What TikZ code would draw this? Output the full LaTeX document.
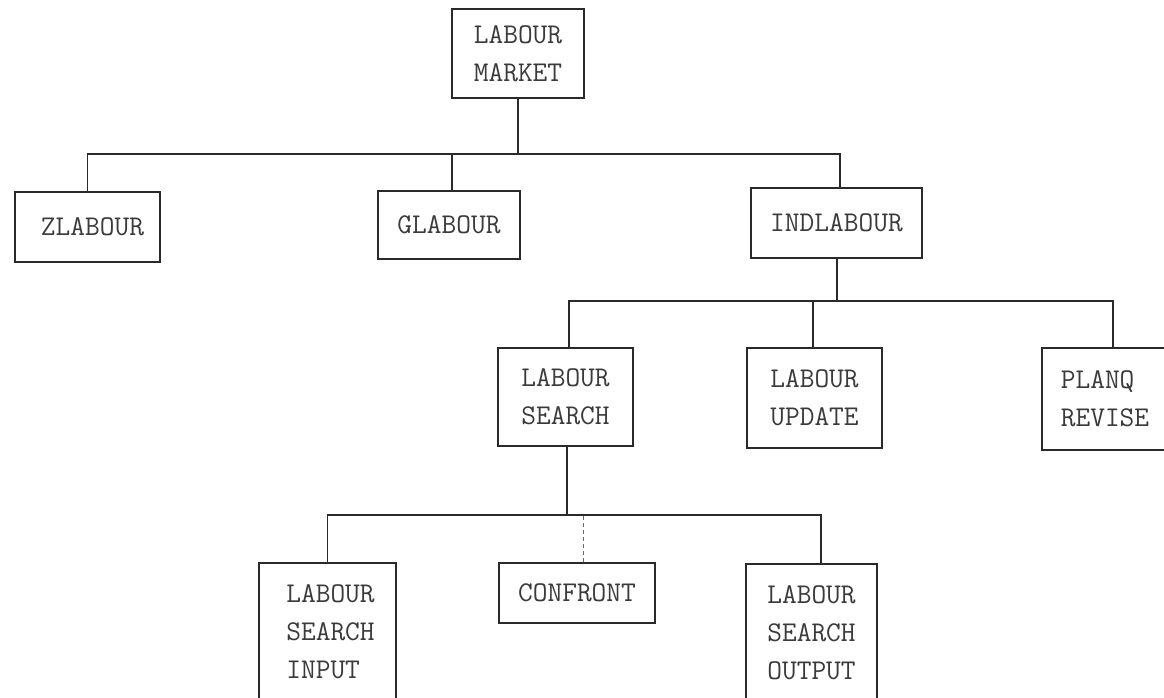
\documentclass[tikz,border=0pt]{standalone}
\usepackage{fontspec}
\definecolor{ink}{HTML}{2A2A2A}
\definecolor{txt}{HTML}{3A3A3A}
\tikzset{
  box/.style={draw=ink, line width=1.2pt, rectangle, inner sep=0pt, align=left,
    text=txt, font=\ttfamily\fontsize{28.6}{38}\selectfont},
  wire/.style={draw=ink, line width=1.2pt},
  faint/.style={draw=ink!70, line width=0.9pt, dash pattern=on 4pt off 3pt}
}
\begin{document}
\begin{tikzpicture}[x=1pt, y=-1pt]
\useasboundingbox (0,0) rectangle (1164,697);
\clip (0,0) rectangle (1164,697);
% boxes
\node[box, minimum width=132pt, minimum height=89pt] (lm) at (518,53.5) {LABOUR\\MARKET};
\node[box, minimum width=145pt, minimum height=70pt] (zl) at (87.5,227) {\hspace*{10pt}ZLABOUR};
\node[box, minimum width=142pt, minimum height=68pt] (gl) at (449,225) {GLABOUR};
\node[box, minimum width=171pt, minimum height=70pt] (ind) at (836.5,223) {INDLABOUR};
\node[box, minimum width=135pt, minimum height=98pt] (ls) at (565.5,397) {LABOUR\\SEARCH};
\node[box, minimum width=135pt, minimum height=100pt] (lu) at (814.5,398) {LABOUR\\UPDATE};
\node[box, minimum width=126pt, minimum height=102pt] (pr) at (1105,399) {PLANQ\\REVISE};
\node[box, minimum width=137pt, minimum height=138pt] (lsi) at (327.5,632) {\hspace*{6pt}LABOUR\\\hspace*{6pt}SEARCH\\\hspace*{6pt}INPUT};
\node[box, minimum width=156pt, minimum height=60pt] (cf) at (577,593) {CONFRONT};
\node[box, minimum width=131pt, minimum height=137pt] (lso) at (811.5,632.5) {LABOUR\\SEARCH\\OUTPUT};
% bus junctions
\coordinate (b1) at (518,154);
\coordinate (b2) at (837,301);
\coordinate (b3) at (567,515);
% level 1
\draw[wire] (lm.south) -- (b1);
\draw[wire] (zl.north) |- (b1) -| ([xshift=3.5pt]ind.north);
\draw[wire] ([xshift=3pt]gl.north) -- ([xshift=3pt]gl.north |- b1);
% level 2
\draw[wire] ([xshift=0.5pt]ind.south) -- (b2);
\draw[wire] ([xshift=3.5pt]ls.north) |- (b2) -| ([xshift=8pt]pr.north);
\draw[wire] ([xshift=-1.5pt]lu.north) -- ([xshift=-1.5pt]lu.north |- b2);
% level 3
\draw[wire] ([xshift=1.5pt]ls.south) -- (b3);
\draw[wire] (lsi.north) |- (b3) -| ([xshift=9.5pt]lso.north);
\draw[faint] ([xshift=6pt]cf.north) -- ([xshift=6pt]cf.north |- b3);
\end{tikzpicture}
\end{document}
